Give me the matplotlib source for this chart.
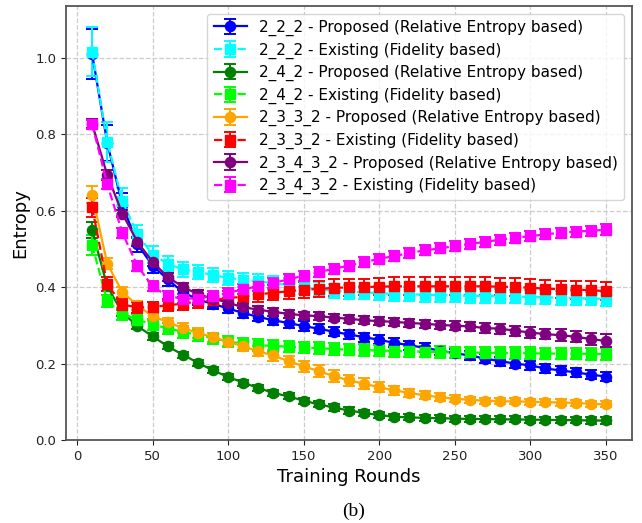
import matplotlib
matplotlib.use("Agg")
import matplotlib.pyplot as plt
import numpy as np

rounds = list(range(10, 351, 10))

# 2_2_2
prop_222 = [1.010, 0.777, 0.615, 0.512, 0.456, 0.420, 0.387, 0.367, 0.356, 0.344,
            0.332, 0.322, 0.313, 0.306, 0.298, 0.291, 0.283, 0.276, 0.269, 0.262,
            0.254, 0.248, 0.241, 0.234, 0.227, 0.221, 0.213, 0.206, 0.200, 0.195,
            0.187, 0.182, 0.177, 0.171, 0.166]
prop_222_err = [0.065, 0.047, 0.030, 0.020, 0.018, 0.016, 0.014, 0.013, 0.013, 0.012,
                0.012, 0.012, 0.012, 0.012, 0.012, 0.012, 0.012, 0.012, 0.012, 0.012,
                0.012, 0.012, 0.012, 0.012, 0.012, 0.012, 0.012, 0.012, 0.012, 0.012,
                0.012, 0.012, 0.012, 0.012, 0.012]
exist_222 = [1.016, 0.780, 0.625, 0.538, 0.485, 0.461, 0.446, 0.440, 0.431, 0.424,
             0.419, 0.415, 0.410, 0.405, 0.399, 0.394, 0.390, 0.388, 0.386, 0.384,
             0.382, 0.381, 0.380, 0.379, 0.378, 0.377, 0.377, 0.376, 0.375, 0.374,
             0.373, 0.372, 0.371, 0.370, 0.369]
exist_222_err = [0.065, 0.052, 0.035, 0.025, 0.022, 0.020, 0.019, 0.018, 0.018, 0.018,
                 0.018, 0.018, 0.018, 0.018, 0.018, 0.018, 0.018, 0.018, 0.018, 0.018,
                 0.018, 0.018, 0.018, 0.018, 0.018, 0.018, 0.018, 0.018, 0.018, 0.018,
                 0.018, 0.018, 0.018, 0.018, 0.018]

# 2_4_2
prop_242 = [0.549, 0.402, 0.333, 0.298, 0.271, 0.245, 0.223, 0.202, 0.182, 0.165,
            0.150, 0.136, 0.123, 0.114, 0.103, 0.093, 0.085, 0.077, 0.071, 0.065,
            0.061, 0.059, 0.058, 0.057, 0.056, 0.055, 0.055, 0.054, 0.054, 0.053,
            0.053, 0.052, 0.052, 0.051, 0.051]
prop_242_err = [0.020, 0.012, 0.010, 0.009, 0.009, 0.008, 0.008, 0.008, 0.008, 0.008,
                0.008, 0.008, 0.008, 0.008, 0.008, 0.008, 0.008, 0.008, 0.008, 0.008,
                0.008, 0.008, 0.008, 0.008, 0.008, 0.008, 0.008, 0.008, 0.008, 0.008,
                0.008, 0.008, 0.008, 0.008, 0.008]
exist_242 = [0.510, 0.363, 0.330, 0.315, 0.302, 0.292, 0.283, 0.275, 0.266, 0.258,
             0.251, 0.248, 0.246, 0.244, 0.242, 0.240, 0.238, 0.236, 0.235, 0.234,
             0.233, 0.232, 0.231, 0.230, 0.229, 0.229, 0.228, 0.228, 0.227, 0.227,
             0.226, 0.226, 0.226, 0.225, 0.225]
exist_242_err = [0.025, 0.016, 0.015, 0.015, 0.015, 0.015, 0.015, 0.015, 0.015, 0.015,
                 0.015, 0.015, 0.015, 0.015, 0.015, 0.015, 0.015, 0.015, 0.015, 0.015,
                 0.015, 0.015, 0.015, 0.015, 0.015, 0.015, 0.015, 0.015, 0.015, 0.015,
                 0.015, 0.015, 0.015, 0.015, 0.015]

# 2_3_3_2
prop_2332 = [0.641, 0.461, 0.387, 0.352, 0.324, 0.308, 0.293, 0.280, 0.269, 0.257,
             0.245, 0.232, 0.221, 0.206, 0.193, 0.180, 0.167, 0.156, 0.147, 0.138,
             0.130, 0.123, 0.117, 0.112, 0.108, 0.105, 0.103, 0.101, 0.101, 0.100,
             0.099, 0.098, 0.097, 0.095, 0.093]
prop_2332_err = [0.022, 0.014, 0.012, 0.012, 0.012, 0.012, 0.012, 0.012, 0.012, 0.012,
                 0.012, 0.013, 0.014, 0.014, 0.014, 0.015, 0.015, 0.015, 0.014, 0.013,
                 0.012, 0.011, 0.010, 0.010, 0.009, 0.008, 0.008, 0.008, 0.008, 0.008,
                 0.008, 0.008, 0.008, 0.008, 0.008]
exist_2332 = [0.609, 0.407, 0.354, 0.347, 0.347, 0.353, 0.356, 0.363, 0.365, 0.372,
              0.374, 0.381, 0.385, 0.389, 0.393, 0.395, 0.398, 0.399, 0.400, 0.401,
              0.402, 0.402, 0.402, 0.402, 0.402, 0.402, 0.402, 0.401, 0.400, 0.398,
              0.396, 0.394, 0.393, 0.392, 0.389]
exist_2332_err = [0.025, 0.018, 0.015, 0.015, 0.015, 0.016, 0.016, 0.017, 0.017, 0.018,
                  0.018, 0.019, 0.020, 0.020, 0.021, 0.021, 0.022, 0.022, 0.022, 0.022,
                  0.023, 0.023, 0.023, 0.023, 0.023, 0.023, 0.023, 0.023, 0.023, 0.023,
                  0.023, 0.023, 0.023, 0.023, 0.023]

# 2_3_4_3_2
prop_23432 = [0.827, 0.693, 0.592, 0.518, 0.466, 0.426, 0.401, 0.381, 0.370, 0.359,
              0.347, 0.341, 0.335, 0.330, 0.326, 0.324, 0.320, 0.317, 0.313, 0.311,
              0.309, 0.306, 0.304, 0.301, 0.299, 0.297, 0.293, 0.291, 0.286, 0.281,
              0.277, 0.274, 0.270, 0.264, 0.259]
prop_23432_err = [0.012, 0.012, 0.010, 0.010, 0.010, 0.010, 0.010, 0.010, 0.010, 0.010,
                  0.010, 0.010, 0.010, 0.010, 0.010, 0.010, 0.010, 0.010, 0.010, 0.010,
                  0.011, 0.011, 0.011, 0.011, 0.012, 0.012, 0.012, 0.013, 0.013, 0.014,
                  0.014, 0.015, 0.015, 0.016, 0.017]
exist_23432 = [0.826, 0.669, 0.542, 0.455, 0.402, 0.376, 0.370, 0.370, 0.376, 0.385,
               0.394, 0.402, 0.411, 0.420, 0.430, 0.439, 0.448, 0.456, 0.465, 0.474,
               0.481, 0.489, 0.496, 0.501, 0.507, 0.513, 0.518, 0.524, 0.529, 0.533,
               0.538, 0.542, 0.545, 0.547, 0.550]
exist_23432_err = [0.012, 0.013, 0.013, 0.013, 0.013, 0.013, 0.013, 0.013, 0.013, 0.013,
                   0.013, 0.013, 0.013, 0.013, 0.013, 0.013, 0.013, 0.013, 0.013, 0.013,
                   0.013, 0.013, 0.013, 0.013, 0.013, 0.013, 0.013, 0.013, 0.013, 0.013,
                   0.013, 0.013, 0.013, 0.013, 0.014]

series = [
    ("2_2_2 - Proposed (Relative Entropy based)", prop_222, prop_222_err, "blue", "o", "-"),
    ("2_2_2 - Existing (Fidelity based)", exist_222, exist_222_err, "cyan", "s", "--"),
    ("2_4_2 - Proposed (Relative Entropy based)", prop_242, prop_242_err, "green", "o", "-"),
    ("2_4_2 - Existing (Fidelity based)", exist_242, exist_242_err, "lime", "s", "--"),
    ("2_3_3_2 - Proposed (Relative Entropy based)", prop_2332, prop_2332_err, "orange", "o", "-"),
    ("2_3_3_2 - Existing (Fidelity based)", exist_2332, exist_2332_err, "red", "s", "--"),
    ("2_3_4_3_2 - Proposed (Relative Entropy based)", prop_23432, prop_23432_err, "purple", "o", "-"),
    ("2_3_4_3_2 - Existing (Fidelity based)", exist_23432, exist_23432_err, "magenta", "s", "--"),
]

fig = plt.figure(figsize=(6.42, 5.23), dpi=100)
ax = fig.add_axes([0.1028, 0.1587, 0.8816, 0.8298])

for label, vals, errs, color, marker, ls in series:
    ax.errorbar(rounds, vals, yerr=errs, label=label, color=color, marker=marker,
                linestyle=ls, linewidth=1.6, markersize=7.3, capsize=4.5,
                elinewidth=1.4, capthick=1.4)

ax.set_ylim(0.0, 1.135)
ax.set_xlim(-7.3, 367.3)
ax.set_xticks([0, 50, 100, 150, 200, 250, 300, 350])
ax.set_yticks([0.0, 0.2, 0.4, 0.6, 0.8, 1.0])
ax.tick_params(labelsize=9.5, colors="#222222")
ax.grid(True, linestyle="--", color="#cccccc", linewidth=0.9)
for sp in ax.spines.values():
    sp.set_color("#555555")
    sp.set_linewidth(1.3)

ax.set_xlabel("Training Rounds", fontsize=13)
ax.set_ylabel("Entropy", fontsize=13)
ax.legend(loc="upper right", fontsize=11, handlelength=2.2, labelspacing=0.42,
          borderpad=0.4, handletextpad=0.8, borderaxespad=0.5)

fig.text(0.55, 0.022, "(b)", fontsize=14, family="Liberation Serif",
         ha="center", va="center")

fig.savefig("out.png", dpi=100)
